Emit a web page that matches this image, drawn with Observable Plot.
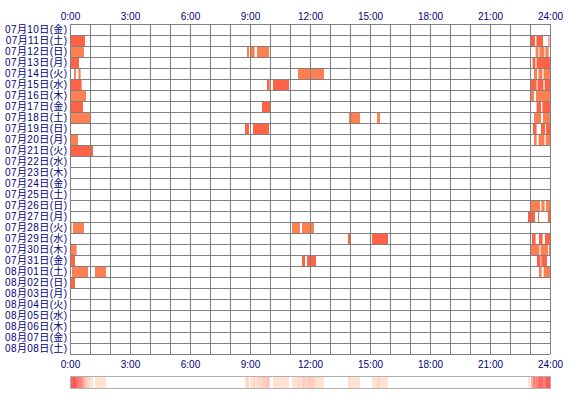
<!DOCTYPE html>
<html><head><meta charset="utf-8">
<script src="https://cdn.jsdelivr.net/npm/d3@7"></script>
<script src="https://cdn.jsdelivr.net/npm/@observablehq/plot@0.6"></script>
<style>
body{margin:0;background:#fff;font-family:"Liberation Sans","Noto Sans CJK JP",sans-serif}
#c{position:relative;width:570px;height:400px}
#c svg{position:absolute;left:0}
</style>
</head><body><div id="c"></div>
<script>
const days = ["07月10日(金)","07月11日(土)","07月12日(日)","07月13日(月)","07月14日(火)","07月15日(水)","07月16日(木)","07月17日(金)","07月18日(土)","07月19日(日)","07月20日(月)","07月21日(火)","07月22日(水)","07月23日(木)","07月24日(金)","07月25日(土)","07月26日(日)","07月27日(月)","07月28日(火)","07月29日(水)","07月30日(木)","07月31日(金)","08月01日(土)","08月02日(日)","08月03日(月)","08月04日(火)","08月05日(水)","08月06日(木)","08月07日(金)","08月08日(土)"];
const hourTicks = [0,3,6,9,12,15,18,21,24];
const tickLabels = ["0:00","3:00","6:00","9:00","12:00","15:00","18:00","21:00","24:00"];
// [day index, start hour, end hour]
const sessions = [
 [1,0,0.75],[1,23.05,23.25],[1,23.32,23.65],[1,23.92,23.97],
 [2,0,0.7],[2,8.85,8.95],[2,9.0,9.23],[2,9.35,9.95],[2,23.28,23.42],[2,23.47,23.72],[2,23.77,23.93],
 [3,0,0.45],[3,23.13,23.27],[3,23.33,24],
 [4,0,0.05],[4,0.2,0.3],[4,0.42,0.53],[4,11.4,12.7],[4,23.2,23.35],[4,23.42,23.62],[4,23.68,24],
 [5,0,0.58],[5,9.85,9.98],[5,10.15,10.95],[5,23.05,23.33],[5,23.38,23.67],[5,23.73,24],
 [6,0,0.8],[6,23.05,23.2],[6,23.3,24],
 [7,0,0.65],[7,9.6,10.0],[7,23.33,23.55],[7,23.62,24],
 [8,0,1.0],[8,13.95,14.5],[8,15.35,15.5],[8,23.2,23.55],[8,23.65,24],
 [9,8.75,8.95],[9,9.15,9.95],[9,23.15,23.33],[9,23.55,23.75],[9,23.8,24],
 [10,0,0.4],[10,23.2,23.33],[10,23.43,23.72],[10,23.78,24],
 [11,0,1.15],
 [16,23.03,23.5],[16,23.57,23.73],[16,23.8,24],
 [17,0,0.05],[17,22.9,23.0],[17,23.05,23.25],[17,23.4,23.45],[17,23.9,24],
 [18,0.07,0.1],[18,0.15,0.7],[18,11.1,11.5],[18,11.6,12.2],
 [19,13.9,14.0],[19,15.1,15.9],[19,23.1,23.28],[19,23.45,23.63],[19,23.75,24],
 [20,0,0.33],[20,23.03,23.47],[20,23.53,23.9],[20,23.95,24],
 [21,0,0.25],[21,11.6,11.75],[21,11.85,12.3],[21,23.35,23.53],[21,23.57,23.85],
 [22,0.1,0.9],[22,1.25,1.8],[22,23.45,23.58],[22,23.68,24],
 [23,0,0.25]
];

const segs = sessions.map(([row,s,e]) => ({row, s, e, parity: row % 2 ? "odd" : "even"}));
const navy = "#000080";
const grid = "#808080";
const ff = '"Liberation Sans","Noto Sans CJK JP",sans-serif';

const main = Plot.plot({
  width: 570, height: 400,
  marginLeft: 70, marginRight: 20, marginTop: 24, marginBottom: 46,
  style: {fontFamily: ff, background: "transparent"},
  x: {domain: [0, 24], axis: null},
  y: {domain: [0, days.length], reverse: true, axis: null},
  color: {domain: ["odd", "even"], range: ["#ff6347", "#ff7f50"]},
  marks: [
    Plot.rect(segs, {x1: "s", x2: "e", y1: "row", y2: d => d.row + 1, fill: "parity"}),
    Plot.ruleX(d3.range(25), {stroke: grid, strokeWidth: 1}),
    Plot.ruleY(d3.range(days.length + 1), {stroke: grid, strokeWidth: 1}),
    Plot.text(days, {x: 0, y: (d, i) => i + 0.5, text: d => d, textAnchor: "end", dx: -3, fill: navy, fontSize: 10}),
    Plot.axisX(hourTicks, {anchor: "top", tickSize: 0, tickPadding: 5, tickFormat: (d) => tickLabels[hourTicks.indexOf(d)], fill: navy, fontSize: 10}),
    Plot.axisX(hourTicks, {anchor: "bottom", tickSize: 0, tickPadding: 6, tickFormat: (d) => tickLabels[hourTicks.indexOf(d)], fill: navy, fontSize: 10})
  ]
});
main.style.top = "0px";
main.querySelectorAll("text").forEach(t => { if (/月/.test(t.textContent)) t.setAttribute("letter-spacing", "0.4"); });

// activity density per 3-minute bin, derived from the sessions
const step = 0.05;
const bins = d3.range(0, 24, step).map(b => {
  const m = b + step / 2;
  return {b, n: segs.filter(d => d.s <= m && d.e > m).length};
});
const maxN = d3.max(bins, d => d.n);
const strip = Plot.plot({
  width: 570, height: 14,
  marginLeft: 70, marginRight: 20, marginTop: 1, marginBottom: 1,
  style: {background: "transparent"},
  x: {domain: [0, 24], axis: null},
  color: {type: "linear", domain: [0, 1, maxN], range: ["#ffffff", "#ffe2d2", "#ff4c4c"]},
  marks: [
    Plot.rect(bins, {x1: "b", x2: d => d.b + step, fill: "n"}),
    Plot.frame({stroke: "#b0b0b0", strokeWidth: 1})
  ]
});
strip.style.top = "375px";

const c = document.getElementById("c");
c.appendChild(main);
c.appendChild(strip);
</script>
</body></html>
